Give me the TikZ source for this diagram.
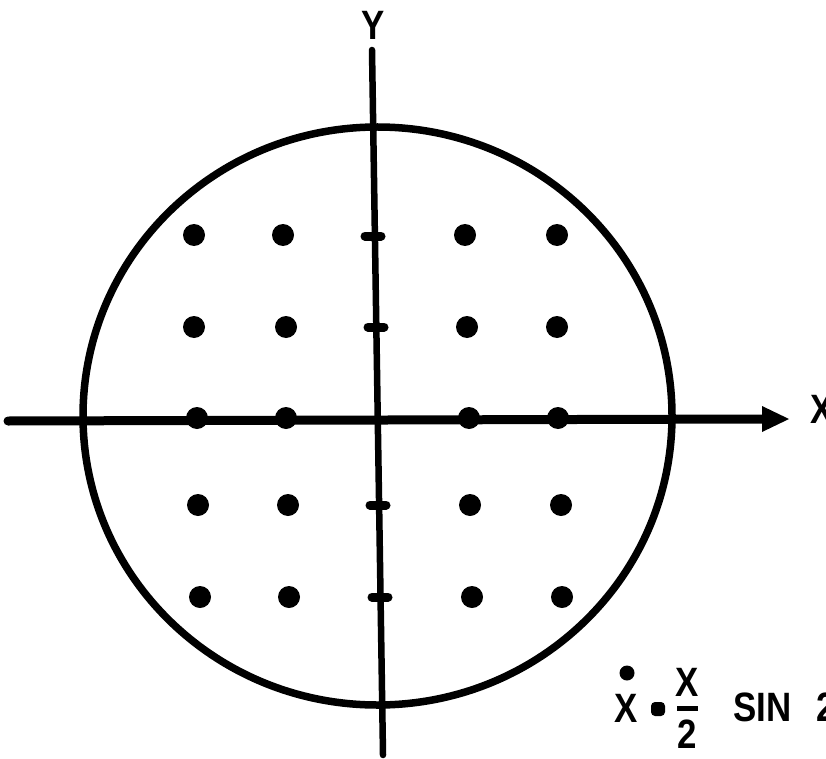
\documentclass[tikz,border=0pt]{standalone}
\usepackage{fontspec}
\setmainfont{Liberation Sans}
\begin{document}
\begin{tikzpicture}[x=1pt,y=-1pt,
  dotmark/.style={fill=black,draw=none},
  tickmark/.style={line width=9pt,line cap=round},
  lettering/.style={font=\bfseries\fontsize{41}{41}\selectfont,inner sep=0pt,xscale=0.85}]
\useasboundingbox (0,0) rectangle (826,759);
% circle
\draw[line width=7.5pt] (377.5,416) ellipse [x radius=294.5, y radius=289];
% axes
\coordinate (xs) at (8,421);
\coordinate (xe) at (765,419);
\coordinate (ys) at (372,50);
\coordinate (ye) at (383,755);
\draw[line width=9pt,line cap=round] (xs) -- (xe);
\fill (762,406) -- (789,419) -- (762,432) -- cycle;
\draw[line width=6.5pt,line cap=round] (ys) -- (ye);
% ticks on Y axis
\foreach \x/\y in {373/236,376/327,378/505,380/597}
  \draw[tickmark] (\x-8,\y) -- (\x+8,\y);
% dots
\foreach \x/\y in {194/235,283/235,465/235,557/235,
                   194/327,286/327,467/327,557/327,
                   197/418,286/418,469/418,558/418,
                   198/505,288/505,470/505,561/505,
                   200/597,289/597,472/597,562/597}
  \fill[dotmark] (\x,\y) circle (11);
% labels
\node[lettering] (ylab) at (373,25) {Y};
\node[lettering,anchor=west] (xlab) at (810,409) {X};
% equation
\node[lettering] (xd) at (626.5,708) {X};
\fill (627,673) circle (7.5);
\fill[rounded corners=4pt] (651,702) rectangle (665,716);
\node[lettering] (xn) at (687.5,682.5) {X};
\draw[line width=5pt] (677,708) -- (698,708);
\node[lettering] (two) at (687.5,734.5) {2};
\node[lettering] (sin) at (762.5,707.5) {SIN};
\node[lettering,anchor=west] (twob) at (816,707.5) {2};
\end{tikzpicture}
\end{document}
